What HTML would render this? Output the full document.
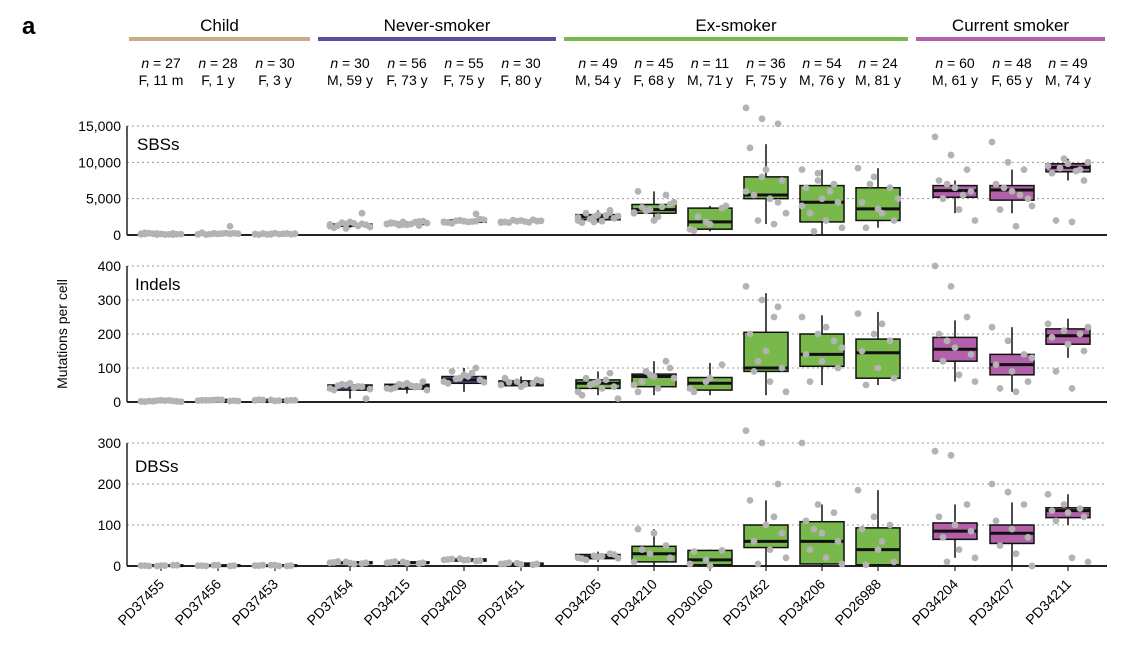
<!DOCTYPE html>
<html><head><meta charset="utf-8"><style>
body{margin:0;background:#fff;font-family:"Liberation Sans",Arial,sans-serif}
svg{display:block}
</style></head><body>
<svg id="chart" width="1138" height="658" viewBox="0 0 1138 658" font-family="Liberation Sans, Arial, sans-serif"></svg>
<script>
const samples=["PD37455","PD37456","PD37453","PD37454","PD34215","PD34209","PD37451","PD34205","PD34210","PD30160","PD37452","PD34206","PD26988","PD34204","PD34207","PD34211"];
const groupOf=[0,0,0,1,1,1,1,2,2,2,2,2,2,3,3,3];
const groupNames=["Child","Never-smoker","Ex-smoker","Current smoker"];
const groupColors=["#c8ad8b","#5a4f9b","#79b84a","#b260a9"];
const nLabels=["27","28","30","30","56","55","30","49","45","11","36","54","24","60","48","49"];
const demoLabels=["F, 11 m","F, 1 y","F, 3 y","M, 59 y","F, 73 y","F, 75 y","F, 80 y","M, 54 y","F, 68 y","M, 71 y","F, 75 y","M, 76 y","M, 81 y","M, 61 y","F, 65 y","M, 74 y"];
// box stats [whiskerLow, q1, median, q3, whiskerHigh]
const sbsStats=[[50,80,150,200,300],[80,120,200,250,400],[50,90,150,200,300],[1000,1200,1300,1500,1800],[1300,1450,1600,1750,1900],[1600,1750,1900,2050,2300],[1700,1800,1900,2000,2100],[1700,2100,2500,2800,3400],[2000,3000,3500,4200,6000],[500,800,1800,3700,4000],[1500,5000,5500,8000,12500],[100,1800,4500,6800,9000],[1000,2000,3600,6500,9200],[3000,5200,6100,6800,7500],[3000,4800,6200,6800,9000],[7500,8700,9300,9800,10500]];
const sbsPts=[[100,200,50,300,150,100,250,80,120,180,90,160,60,220,140],[100,200,1200,300,150,250,50,200,180,120,260,90,220,160],[100,150,200,50,250,100,200,120,180,80,160,140,90],[1200,1500,3000,1000,1800,1400,1300,1600,1100,1700,1250,1450,900,1550],[1500,1800,1300,1700,1400,1900,1600,1500,1650,1350,1750,1550,1450,1850,1600],[1800,2000,2900,1700,1900,2200,1600,1800,2100,1950,1850,1750,2050,1900],[1700,1900,2100,1800,2000,1900,1700,1850,1950,2050,1750,1800],[2000,2500,3400,1700,2800,2300,3000,1900,2600,2200,2700,2400,1800,3100],[3000,3500,5500,6000,2000,4200,3800,2500,4500,3300,3900,3100],[800,1800,3700,600,1500,4000,2500],[17500,16000,15300,12000,9000,7500,5500,5000,3000,2000,1500,6000,8000,4500],[9000,8500,7000,6500,5000,4500,3000,2000,1000,500,6000,4000,7500],[9200,8000,6500,4500,3600,2000,1000,3000,5000,7000],[13500,11000,9000,7500,6500,6000,5000,3500,2000,7000,5500],[12800,10000,9000,7000,6000,5000,3500,1200,4000,6500,5500],[9500,10500,9000,8500,9800,7500,2000,1800,10000,9200,8800]];
const indelStats=[[0,1,3,5,8],[0,3,5,7,10],[0,3,5,7,10],[10,35,45,50,60],[25,38,45,52,60],[30,55,65,75,100],[40,48,55,62,75],[20,40,55,65,90],[20,45,75,82,120],[20,35,55,72,115],[20,90,100,205,320],[50,105,140,200,255],[50,70,145,185,265],[60,120,155,190,240],[30,80,110,140,220],[130,170,195,215,245]];
const indelPts=[[2,4,3,1,5,2,3,4,1,2,5],[4,6,3,5,7,4,5,6,3,5],[5,6,4,7,3,5,6,4,5],[40,50,45,35,55,10,48,42,38,52,46],[40,50,45,38,55,60,42,48,35,52,44],[60,70,100,55,80,65,90,75,58,68,85],[50,60,55,70,45,65,58,52,62],[30,55,85,20,60,45,70,40,10,50,65],[50,80,120,30,75,100,60,40,70,90],[40,60,110,30,70],[340,300,280,200,150,100,90,60,30,120,250],[250,200,180,140,120,100,60,220,160],[260,200,180,150,100,70,50,230],[400,340,250,200,160,140,120,80,60,180],[220,180,140,110,90,60,40,30,130],[230,210,200,190,170,150,90,40,220]];
const dbsStats=[[0,0,1,2,3],[0,0,1,2,3],[0,0,1,2,3],[4,6,8,10,12],[5,7,8,10,12],[10,12,15,17,20],[2,3,5,7,9],[10,18,22,28,35],[0,10,30,48,90],[0,3,15,38,40],[0,45,60,100,160],[0,5,60,108,150],[0,3,40,93,185],[20,65,85,105,150],[0,55,80,100,155],[100,118,135,142,175]];
const dbsPts=[[1,0,2,1,1,2,0,1],[1,2,0,1,2,1,0],[1,2,0,1,2,1,2,0],[8,10,6,9,7,8,11,5],[8,10,6,9,7,8,11],[15,18,12,16,14,13,17,15],[5,7,3,6,4,5,8],[20,25,30,18,22,28,15,24,19],[10,30,50,90,80,20,40],[5,15,38,35,0],[330,300,200,160,100,80,60,40,20,5,120],[300,150,130,110,80,60,40,20,5,90],[185,120,100,90,40,10,3,60],[280,270,150,120,100,85,70,40,20,10],[200,180,150,110,90,70,50,30,0],[175,150,140,135,130,120,110,20,10]];

const NS="http://www.w3.org/2000/svg";
const svg=document.getElementById('chart');
function mk(tag,attrs,parent){const e=document.createElementNS(NS,tag);for(const k in attrs)e.setAttribute(k,attrs[k]);(parent||svg).appendChild(e);return e;}
const centers=[161,218,275,350,407,464,521,598,654,710,766,822,878,955,1012,1068];
function xPos(i){return centers[i];}
const axL=127, axR=1107;

const la=mk('text',{x:22,y:34,'font-size':24,'font-weight':'bold'});la.textContent='a';


const gRanges=[[129,310],[318,556],[564,908],[916,1105]];
groupNames.forEach((g,i)=>{
 const r=gRanges[i];
 const t=mk('text',{x:(r[0]+r[1])/2,y:31,'font-size':17,'text-anchor':'middle'});t.textContent=g;
 
 
 const l=mk('rect',{x:r[0],y:37,width:r[1]-r[0],height:4,fill:groupColors[i]});
 
 
});
samples.forEach((s,i)=>{
 const x=xPos(i);
 const t=mk('text',{x:x,y:68,'font-size':14,'text-anchor':'middle'});
 t.innerHTML='<tspan font-style="italic">n</tspan> = '+nLabels[i];
 
 
 const t2=mk('text',{x:x,y:85,'font-size':14,'text-anchor':'middle'});t2.textContent=demoLabels[i];
 
 
 const t3=mk('text',{x:x+4,y:585,'font-size':14,'text-anchor':'end',transform:`rotate(-45 ${x+4} 585)`});t3.textContent=s;
 
 
 const tk=mk('line',{x1:x,x2:x,y1:566,y2:571,stroke:'#222','stroke-width':1.2});
 
 
});
const yl=mk('text',{x:0,y:0,'font-size':14,'text-anchor':'middle',transform:'translate(67 334) rotate(-90)'});yl.textContent='Mutations per cell';



const panels=[
 {name:'SBSs',key:'sbs',y0:235,yTop:126,max:15000,ticks:[0,5000,10000,15000],stats:sbsStats,pts:sbsPts,lx:137,ly:150},
 {name:'Indels',key:'indels',y0:402,yTop:266,max:400,ticks:[0,100,200,300,400],stats:indelStats,pts:indelPts,lx:135,ly:290},
 {name:'DBSs',key:'dbs',y0:566,yTop:443,max:300,ticks:[0,100,200,300],stats:dbsStats,pts:dbsPts,lx:135,ly:472}
];
panels.forEach(p=>{
 const g=mk('g',{});
 
 
 const y=v=>p.y0-(v/p.max)*(p.y0-p.yTop);
 p.ticks.forEach(t=>{
  if(t>0){const gl=mk('line',{x1:axL,x2:axR,y1:y(t),y2:y(t),stroke:'#999','stroke-dasharray':'2,3','stroke-width':1},g);
  
  }
  const tl=mk('text',{x:121,y:y(t)+5,'font-size':14,'text-anchor':'end'},g);tl.textContent=t.toLocaleString('en-US');
  
  
 });
 const ya=mk('line',{x1:axL,x2:axL,y1:p.yTop,y2:p.y0,stroke:'#222','stroke-width':1.5},g);
 
 
 const xa=mk('line',{x1:axL,x2:axR,y1:p.y0,y2:p.y0,stroke:'#222','stroke-width':2},g);
 
 
 const lab=mk('text',{x:p.lx,y:p.ly,'font-size':17},g);lab.textContent=p.name;
 
 
 p.stats.forEach((st,i)=>{
  const x=xPos(i),w=44;
  const wl=mk('line',{x1:x,x2:x,y1:y(st[0]),y2:y(st[4]),stroke:'#111','stroke-width':1.5},g);
  
  
  const b=mk('rect',{x:x-w/2,y:y(st[3]),width:w,height:Math.max(1,y(st[1])-y(st[3])),fill:groupColors[groupOf[i]],stroke:'#111','stroke-width':1.5},g);
  
  
  const m=mk('line',{x1:x-w/2,x2:x+w/2,y1:y(st[2]),y2:y(st[2]),stroke:'#111','stroke-width':3},g);
  
  
 });
 p.pts.forEach((arr,i)=>{
  arr.forEach((v,j)=>{
   const off=((j*37)%11-5)*4;
   const c=mk('circle',{cx:xPos(i)+off,cy:y(Math.min(v,p.max*1.2)),r:3.4,fill:'#b3b3b3'},g);
   
   
  });
 });
});
</script>
</body></html>
